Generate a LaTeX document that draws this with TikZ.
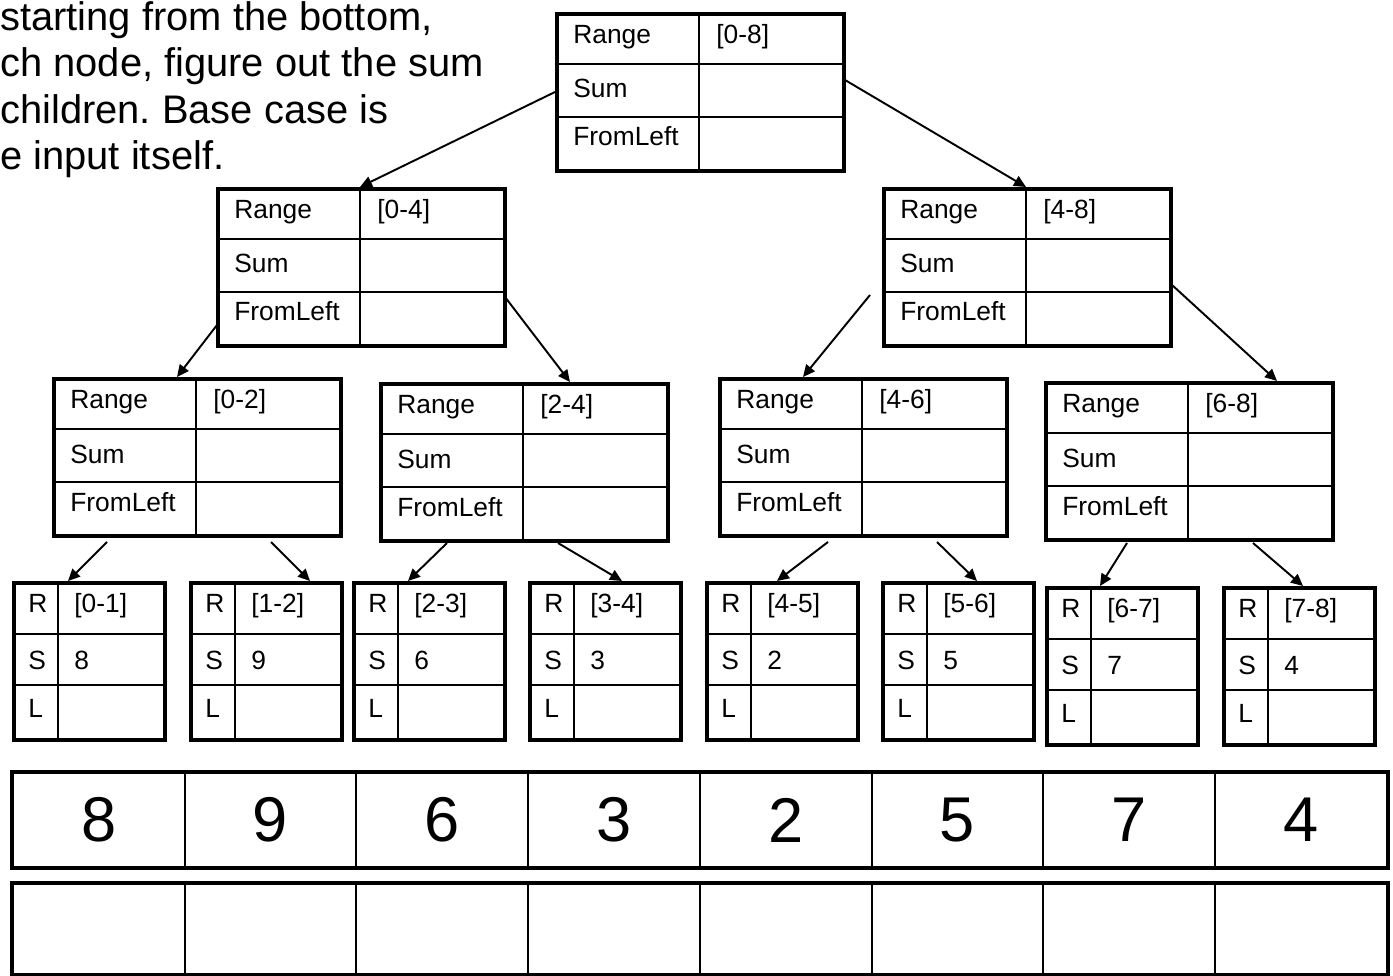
\documentclass[tikz,border=0pt]{standalone}
\usepackage{fontspec}
\setmainfont{Liberation Sans}
\usetikzlibrary{arrows.meta,calc}
\frenchspacing

\begin{document}
\begin{tikzpicture}[x=0.02cm,y=-0.02cm,>={Triangle[length=0.24cm,width=0.22cm]}]
  \tikzset{outer/.style={draw,line width=2.3pt,inner sep=0pt,anchor=north west},
    big/.style={outer,minimum width=5.74cm,minimum height=3.14cm},
    leaf/.style={outer,minimum width=3.02cm,minimum height=3.14cm},
    cell/.style={draw,line width=1.1pt,inner sep=0pt,anchor=north west,minimum width=3.435cm,font=\fontsize{36}{40}\selectfont},
    grid/.style={line width=1.1pt},
    lbl/.style={anchor=base west,inner sep=0pt,font=\fontsize{15}{18}\selectfont},
    link/.style={->,line width=1.1pt}}
  \useasboundingbox (0,0) rectangle (1393,976);
  \node[anchor=north west,inner sep=0pt,align=left,font=\fontsize{22.7}{26.4}\selectfont] (intro) at (0,1) {starting from the bottom,\\ch node, figure out the sum\\children. Base case is\\e input itself.};
  % range / sum / fromleft boxes
  \foreach \n/\x/\y/\r in {root/555/12/0-8,n04/216/187/0-4,n48/882/187/4-8,n02/52/377/0-2,n24/379/382/2-4,n46/718/377/4-6,n68/1044/381/6-8}{
    \node[big] (\n) at (\x,\y) {};
    \draw[grid] (\x+144,\y) -- ++(0,157) (\x,\y+52) -- ++(287,0) (\x,\y+105) -- ++(287,0);
    \node[lbl] at (\x+18,\y+32) {Range};\node[lbl] at (\x+161,\y+32) {[\r]};
    \node[lbl] at (\x+18,\y+86) {Sum};\node[lbl] at (\x+18,\y+134) {FromLeft};}
  % leaves
  \foreach \n/\x/\y/\r/\s in {l01/12/581/0-1/8,l12/189/581/1-2/9,l23/352/581/2-3/6,l34/528/581/3-4/3,l45/705/581/4-5/2,l56/881/581/5-6/5,l67/1045/586/6-7/7,l78/1222/586/7-8/4}{
    \node[leaf] (\n) at (\x,\y) {};
    \draw[grid] (\x+46,\y) -- ++(0,157) (\x,\y+53) -- ++(151,0) (\x,\y+104) -- ++(151,0);
    \node[lbl] at (\x+16,\y+31) {R};\node[lbl] at (\x+62,\y+31) {[\r]};
    \node[lbl] at (\x+16,\y+88) {S};\node[lbl] at (\x+62,\y+88) {\s};
    \node[lbl] at (\x+16,\y+136) {L};}
  % input and output arrays
  \foreach \v [count=\i from 0] in {8,9,6,3,2,5,7,4}{
    \node[cell,minimum height=1.88cm] (a\i) at (12+171.75*\i,772) {\v};
    \node[cell,minimum height=1.8cm] (b\i) at (12+171.75*\i,883) {};}
  \draw[line width=2.3pt] (a0.north west) rectangle (a7.south east) (b0.north west) rectangle (b7.south east);
  \foreach \a/\ax/\ay/\b/\bx in {root/0/80/n04/144,root/290/68/n48/144,n04/1/138/n02/125,n04/289/110/n24/191,n48/-12/108/n46/85,n48/290/98/n68/233,n02/55/165/l01/56,n02/219/165/l12/121,n24/68/161/l23/56,n24/179/161/l34/94,n46/110/165/l45/72,n46/219/165/l56/96,n68/83/162/l67/55,n68/209/162/l78/81}{\draw[link] ($(\a.north west)+(\ax,\ay)$) -- ($(\b.north west)+(\bx,0)$);}
\end{tikzpicture}
\end{document}
